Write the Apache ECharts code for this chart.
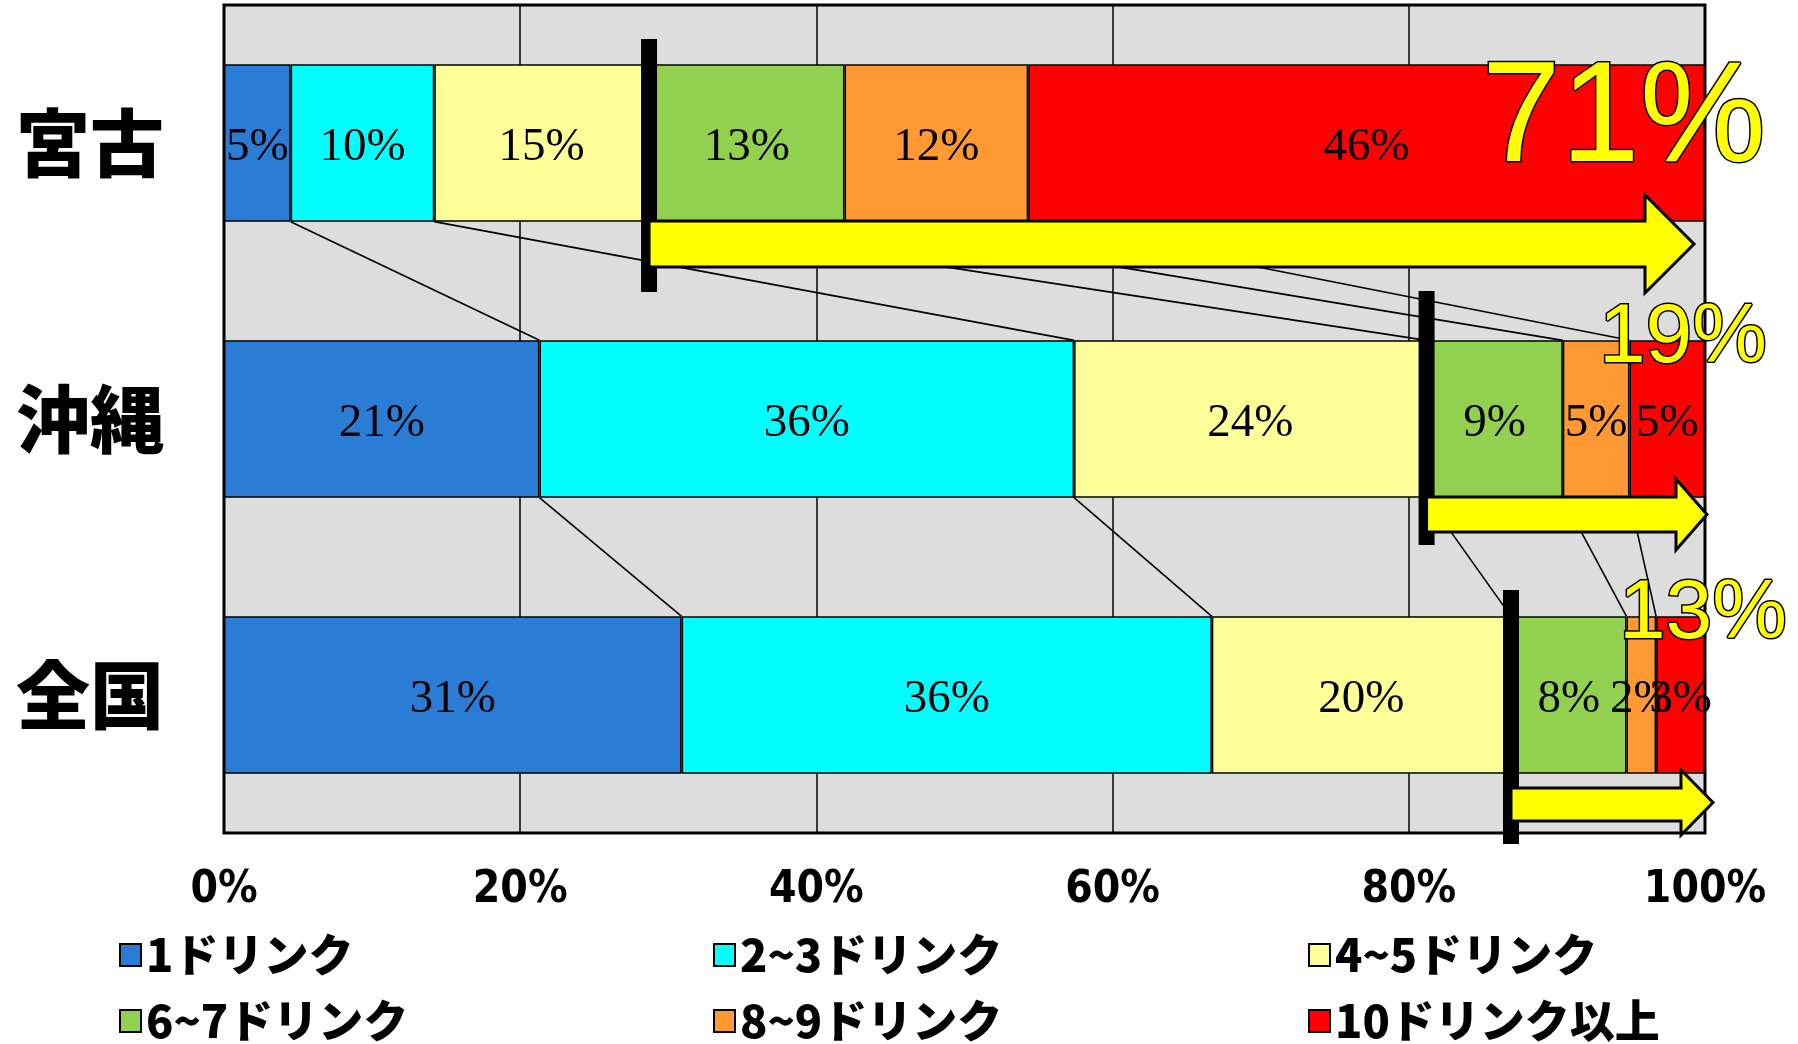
<!DOCTYPE html>
<html>
<head>
<meta charset="utf-8">
<script src="https://cdn.jsdelivr.net/npm/echarts@6/dist/echarts.min.js"></script>
<style>
  html, body { margin: 0; padding: 0; background: #fff; }
  #chart { width: 1798px; height: 1044px; }
</style>
</head>
<body>
<div id="chart"></div>
<script>
// Regions, top to bottom
const regions = ['宮古', '沖縄', '全国'];
// Drinks per occasion
const drinkGroups = ['1ドリンク', '2~3ドリンク', '4~5ドリンク', '6~7ドリンク', '8~9ドリンク', '10ドリンク以上'];
// Share (%) of each drinking group, ordered like regions
const oneDrink  = [4.5, 21.3, 30.9];
const twoThree  = [9.7, 36.1, 35.8];
const fourFive  = [14.5, 23.8, 20.2];
const sixSeven  = [13.2, 9.2, 7.8];
const eightNine = [12.4, 4.5, 2.0];
const tenPlus   = [45.7, 5.1, 3.3];
// Value axis ticks (%)
const xTicks = [0, 20, 40, 60, 80, 100];

const groupValues = [oneDrink, twoThree, fourFive, sixSeven, eightNine, tenPlus];
const groupColors = ['#2B7CD5', '#00FFFF', '#FFFF99', '#92D050', '#FF9933', '#FF0000'];
const BAR_SHARE = 0.57;

// running totals of the first five groups, per region (for the connector lines)
const cumulative = regions.map((_, r) => {
  let s = 0;
  return groupValues.slice(0, 5).map(arr => (s += arr[r]));
});
// where "6 drinks or more" begins, and how large that part is
const heavyStart = regions.map((_, r) => oneDrink[r] + twoThree[r] + fourFive[r]);
const heavyShare = regions.map((_, r) => sixSeven[r] + eightNine[r] + tenPlus[r]);

// pixel layout of the divider, arrow and callout text for each row
// (y offsets relative to the row centre, x offsets relative to the 100% line)
const markerLayout = [
  { barTop: -104, barBottom: 149, shaftTop: 78, shaftBottom: 124, headTop: 52, headBottom: 150, tipDx: -11, headLen: 49, textSize: 142, textDx: 61, textDy: -21 },
  { barTop: -128, barBottom: 126, shaftTop: 78, shaftBottom: 113, headTop: 60, headBottom: 131, tipDx: 2,   headLen: 31, textSize: 84,  textDx: 62, textDy: -80 },
  { barTop: -105, barBottom: 149, shaftTop: 93, shaftBottom: 126, headTop: 75, headBottom: 140, tipDx: 8,   headLen: 32, textSize: 84,  textDx: 82, textDy: -80 }
];

function renderConnectors(params, api) {
  const row = api.value(1);
  const half = api.size([0, 1])[1] * BAR_SHARE / 2;
  const children = cumulative[row].map((v, k) => {
    const p1 = api.coord([v, row]);
    const p2 = api.coord([cumulative[row + 1][k], row + 1]);
    return {
      type: 'line',
      shape: { x1: p1[0], y1: p1[1] + half, x2: p2[0], y2: p2[1] - half },
      style: { stroke: '#000', lineWidth: 1.6 }
    };
  });
  return { type: 'group', children };
}

function renderMarkers(params, api) {
  const row = api.value(1);
  const L = markerLayout[row];
  const [xCut, cy] = api.coord([api.value(0), row]);
  const x100 = api.coord([100, row])[0];
  const tipX = x100 + L.tipDx;
  const headX = tipX - L.headLen;
  const tipY = cy + (L.headTop + L.headBottom) / 2;
  return {
    type: 'group',
    children: [
      {
        type: 'rect',
        shape: { x: xCut - 8, y: cy + L.barTop, width: 16, height: L.barBottom - L.barTop },
        style: { fill: '#000' }
      },
      {
        type: 'polygon',
        shape: {
          points: [
            [xCut, cy + L.shaftTop], [headX, cy + L.shaftTop], [headX, cy + L.headTop],
            [tipX, tipY],
            [headX, cy + L.headBottom], [headX, cy + L.shaftBottom], [xCut, cy + L.shaftBottom]
          ]
        },
        style: { fill: '#FFFF00', stroke: '#000', lineWidth: 3, lineJoin: 'miter' }
      },
      {
        type: 'text',
        x: x100 + L.textDx,
        y: cy + L.textDy,
        style: {
          text: Math.round(api.value(2)) + '%',
          fontFamily: '"Liberation Sans", Arial, sans-serif',
          fontSize: L.textSize,
          fill: '#FFFF00',
          stroke: '#000',
          lineWidth: 3,
          align: 'right',
          verticalAlign: 'middle'
        }
      }
    ]
  };
}

const barSeries = drinkGroups.map((name, i) => ({
  name,
  type: 'bar',
  stack: 'total',
  barWidth: (BAR_SHARE * 100) + '%',
  data: groupValues[i],
  itemStyle: { color: groupColors[i], borderColor: '#000', borderWidth: 1.5 },
  label: {
    show: true,
    position: 'inside',
    offset: [0, 5],
    formatter: p => Math.round(p.value) + '%',
    fontFamily: '"Liberation Serif", "Times New Roman", serif',
    fontSize: 47,
    color: '#000'
  },
  emphasis: { disabled: true },
  z: 2
}));

const legendColumns = [119, 713, 1308];

const option = {
  animation: false,
  backgroundColor: '#fff',
  grid: {
    left: 224, right: 93, top: 5, bottom: 211,
    show: true,
    backgroundColor: '#DDDDDD',
    borderColor: '#000',
    borderWidth: 3,
    outerBoundsMode: 'none',
    containLabel: false
  },
  xAxis: {
    type: 'value',
    min: xTicks[0],
    max: xTicks[xTicks.length - 1],
    interval: xTicks[1] - xTicks[0],
    axisLine: { show: false },
    axisTick: { show: false },
    splitLine: { show: true, lineStyle: { color: '#000', width: 1.5 } },
    axisLabel: {
      formatter: '{value}%',
      fontFamily: '"Liberation Sans Narrow", "DejaVu Sans Condensed", sans-serif',
      fontWeight: 'bold',
      fontSize: 44,
      color: '#000',
      margin: 36
    }
  },
  yAxis: {
    type: 'category',
    inverse: true,
    data: regions,
    axisLine: { show: false },
    axisTick: { show: false },
    axisLabel: {
      fontFamily: '"Noto Sans CJK JP", sans-serif',
      fontWeight: 900,
      fontSize: 74,
      color: '#000',
      margin: 60
    }
  },
  legend: legendColumns.map((left, c) => ({
    orient: 'vertical',
    left,
    top: 932,
    padding: 0,
    data: [drinkGroups[c], drinkGroups[c + 3]],
    icon: 'rect',
    itemWidth: 21,
    itemHeight: 22,
    itemGap: 20,
    selectedMode: false,
    itemStyle: { borderColor: '#000', borderWidth: 2 },
    textStyle: {
      fontFamily: '"Noto Sans CJK JP", sans-serif',
      fontWeight: 900,
      fontSize: 45,
      lineHeight: 46,
      color: '#000'
    }
  })),
  series: [
    ...barSeries,
    {
      type: 'custom',
      name: 'connectors',
      renderItem: renderConnectors,
      data: regions.slice(0, -1).map((_, r) => [0, r]),
      z: 3,
      silent: true
    },
    {
      type: 'custom',
      name: 'markers',
      renderItem: renderMarkers,
      data: regions.map((_, r) => [heavyStart[r], r, heavyShare[r]]),
      z: 5,
      silent: true
    }
  ]
};

const chart = echarts.init(document.getElementById('chart'), null, { renderer: 'canvas' });
chart.setOption(option);
</script>
</body>
</html>
